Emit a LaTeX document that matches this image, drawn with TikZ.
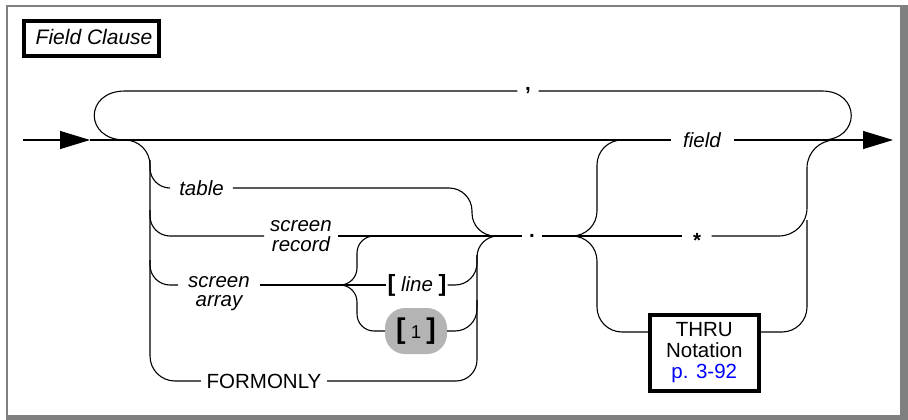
\documentclass[tikz,border=0pt]{standalone}
\usepackage{fontspec}
\setmainfont{Liberation Sans}
\usetikzlibrary{arrows.meta}
\definecolor{framegray}{RGB}{128,128,128}
\definecolor{ovalgray}{RGB}{180,180,180}
\newcommand\bigbrk[1]{{\fontsize{28.5}{28.5}\selectfont\bfseries #1}}
\newcommand\midbrk[1]{{\fontsize{23.5}{23.5}\selectfont\bfseries #1}}
\begin{document}
\begin{tikzpicture}[x=1pt,y=-1pt,
  conn/.style={line width=1.1pt, line join=round},
  tip/.style={-{Triangle[length=30pt,width=18pt]}},
  basefont/.style={font=\fontsize{20.5}{21}\selectfont},
  lbl/.style={basefont, inner xsep=9pt, inner ysep=0pt, font=\fontsize{20.5}{20}\selectfont\itshape},
  kw/.style={basefont, inner xsep=5.5pt, inner ysep=0pt},
  punct/.style={inner ysep=0pt, font=\fontsize{20.5}{20}\selectfont\bfseries},
  brk/.style={basefont, inner xsep=1pt, inner ysep=0pt},
  oval/.style={fill=ovalgray, rounded corners=20pt, minimum width=62pt, minimum height=46pt, inner sep=0pt, font=\fontsize{18.6}{20}\selectfont},
  refbox/.style={draw, line width=4pt, inner sep=0pt, align=center, font=\fontsize{20.5}{21}\selectfont},
]
\useasboundingbox (0,0) rectangle (908,420);
% frame
\fill[framegray] (6,5) rectangle (908,420);
\fill[white] (8,7.3) rectangle (900,414.5);
% title
\draw[line width=4pt] (24,21) rectangle (159,56.5);
\node[anchor=base west, inner sep=0pt, font=\fontsize{21}{21}\selectfont\itshape] (title) at (35.5,44.5) {Field Clause};

% coordinates
\coordinate (start) at (23,140);
\coordinate (entry) at (90,140);
\coordinate (exit) at (893,140);
\coordinate (lj) at (125,140);
\coordinate (rj) at (822,140);
\coordinate (loopL) at (125,91);
\coordinate (loopR) at (822,91);
\coordinate (jsa) at (340,285);
\coordinate (jdot) at (570,236);
\coordinate (fj) at (630,140);
\coordinate (rj2) at (840,140);

% labels
\node[punct, inner xsep=7.5pt] (comma) at (528,91) {,};
\node[lbl, inner xsep=12.5pt] (field) at (702,140) {field};
\node[lbl] (table) at (201.5,188) {table};
\node[lbl, inner xsep=6pt, align=center] (srec) at (301,236) {screen\\record};
\node[lbl, inner xsep=10pt, text depth=5.5pt] (sarr) at (219,285) {screen};
\node[lbl, anchor=base] (sarr2) at (219,306.7) {array};
\node[brk] (linebr) at (417,285) {\midbrk{[} \textit{line} \midbrk{]}};
\node[oval] (one) at (416,331) {\bigbrk{[} 1 \bigbrk{]}};
\node[kw] (formonly) at (264,381) {FORMONLY};
\node[punct, inner xsep=7pt] (dot) at (532,236) {.};
\node[punct, inner xsep=10.5pt] (star) at (697,236) {\smash{\raisebox{-11.8pt}{*}}};
\node[refbox, minimum width=108.5pt, minimum height=75.5pt] (thru) at (704.25,352.75) {THRU\\Notation\\\textcolor{blue}{p. 3-92}};
\path (thru.west) ++(0,-20.75) coordinate (thruin);
\path (thru.east) ++(0,-20.75) coordinate (thruout);

% main line
\draw[conn, tip] (start) -- (entry);
\draw[conn] (entry) -- (field);
\draw[conn, tip] (field) -- (exit);
% repeat loop
\draw[conn] (lj) .. controls (84,140) and (84,91) .. (loopL) -- (comma);
\draw[conn] (comma) -- (loopR) .. controls (861,91) and (861,140) .. (rj);

% left branches
\draw[conn, rounded corners=25pt] (lj) -- (150,140) -- (150,381) -- (formonly);
\draw[conn, rounded corners=20pt] (150,160) -- (150,188) -- (table);
\draw[conn, rounded corners=20pt] (150,210) -- (150,236) -- (srec);
\draw[conn, rounded corners=20pt] (150,260) -- (150,285) -- (sarr);

% into the dot
\draw[conn, rounded corners=23pt] (table) -- (472,188) -- (472,236) -- (dot);
\draw[conn] (srec) -- (dot);
\draw[conn, rounded corners=21pt] (formonly) -- (477,381) -- (477,236) -- (dot);

% screen array choices
\draw[conn] (sarr) -- (jsa) -- (linebr);
\draw[conn, rounded corners=17pt] (jsa) -- (357,285) -- (357,236) -- (395,236);
\draw[conn, rounded corners=17pt] (jsa) -- (357,285) -- (357,331) -- (one);
\draw[conn, rounded corners=22pt] (linebr) -- (477,285) -- (477,255);
\draw[conn, rounded corners=22pt] (one) -- (477,331) -- (477,300);

% after the dot
\draw[conn] (dot) -- (star);
\draw[conn, rounded corners=25pt] (jdot) -- (597,236) -- (597,140) -- (fj);
\draw[conn, rounded corners=25pt] (jdot) -- (597,236) -- (597,332) -- (thruin);
\draw[conn, rounded corners=28pt] (star) -- (807,236) -- (807,140) -- (rj2);
\draw[conn, rounded corners=25pt] (thruout) -- (807,332) -- (807,220);
\end{tikzpicture}
\end{document}
